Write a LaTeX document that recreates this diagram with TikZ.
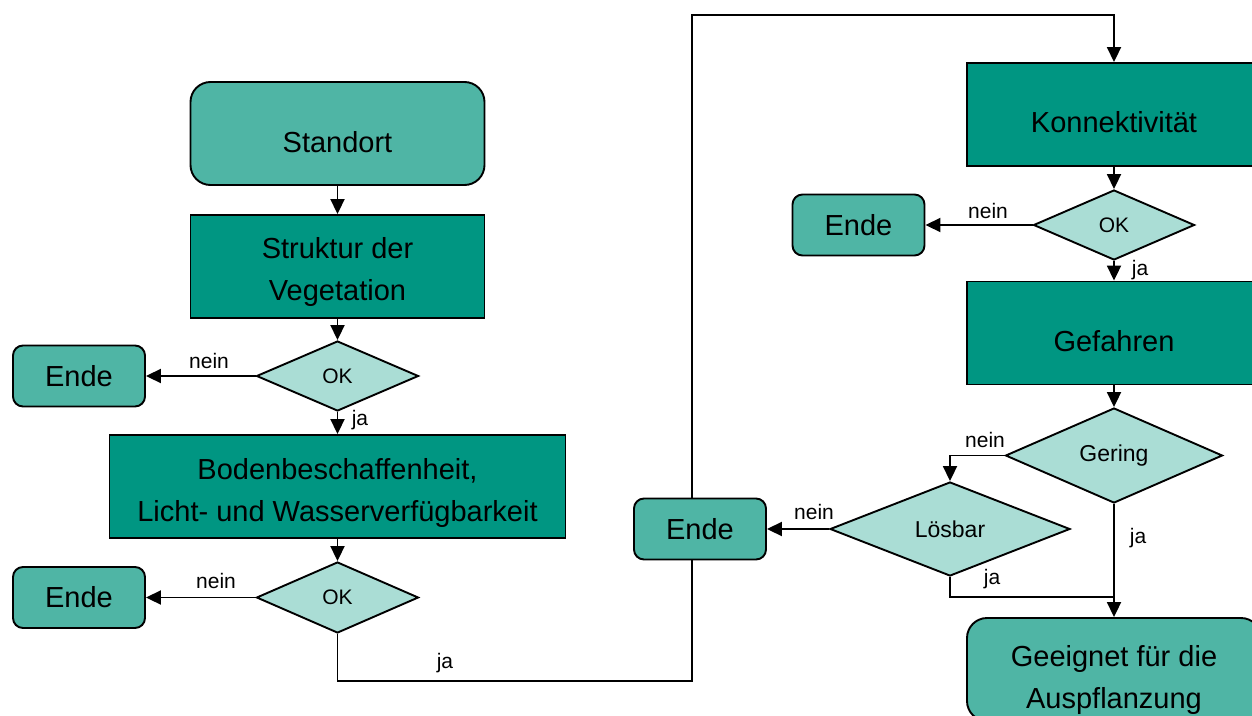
\documentclass[tikz,border=0pt]{standalone}
\usepackage{fontspec}
\setmainfont{Liberation Sans}
\usetikzlibrary{shapes.geometric,arrows.meta,backgrounds}
\definecolor{tealdark}{RGB}{0,150,130}
\definecolor{tealmid}{RGB}{79,181,165}
\definecolor{teallight}{RGB}{170,221,213}
\begin{document}
\begin{tikzpicture}[x=1pt,y=-1pt,
  big/.style={font=\fontsize{29}{42}\selectfont,align=center},
  darkbox/.style={draw=black,line width=1.9pt,fill=tealdark,minimum width=294pt,minimum height=103pt,inner sep=0pt},
  roundbox/.style={draw=black,line width=1.9pt,fill=tealmid,rounded corners=20pt,minimum width=294pt,minimum height=103pt,inner sep=0pt},
  endbox/.style={draw=black,line width=1.9pt,fill=tealmid,rounded corners=10pt,minimum width=132pt,minimum height=61pt,big,inner sep=0pt},
  dec/.style={diamond,draw=black,line width=1.9pt,fill=teallight,inner sep=0pt,font=\fontsize{21}{25}\selectfont},
  dec2/.style={dec,font=\fontsize{23}{27}\selectfont},
  lab/.style={font=\fontsize{21}{25}\selectfont,anchor=base,inner sep=0pt},
  conn/.style={line width=1.9pt,-{Triangle[length=15pt,width=14pt]}},
  plain/.style={line width=1.9pt},
]
\useasboundingbox (0,0) rectangle (1252,715);
\clip (0,0) rectangle (1252,715);

% left column
\node[roundbox] (std) at (337.5,133.5) {};
\node[big] (stdtxt) at ([yshift=-9pt]std.center) {Standort};
\node[darkbox] (str) at (337.5,266.5) {};
\node[big] (strtxt) at ([yshift=-5pt]str.center) {Struktur der\\Vegetation};
\node[dec,minimum width=162pt,minimum height=70pt] (ok1) at (337.5,376) {OK};
\node[endbox] (e1) at (79,376) {Ende};
\node[darkbox,minimum width=456pt] (bod) at (337.5,486.5) {};
\node[big] (bodtxt) at ([yshift=-6pt]bod.center) {Bodenbeschaffenheit,\\Licht- und Wasserverfügbarkeit};
\node[dec,minimum width=162pt,minimum height=71pt] (ok2) at (337.5,597.5) {OK};
\node[endbox] (e2) at (79,597.5) {Ende};

% right column
\node[darkbox] (konn) at (1114,114.5) {};
\node[big] (konntxt) at ([yshift=-7.5pt]konn.center) {Konnektivität};
\node[dec,minimum width=161pt,minimum height=70pt] (ok3) at (1114,225) {OK};
\node[endbox] (e4) at (858.5,225) {Ende};
\node[darkbox] (gef) at (1114,333) {};
\node[big] (geftxt) at ([yshift=-8pt]gef.center) {Gefahren};
\node[dec2,minimum width=217pt,minimum height=95pt] (ger) at (1114,455.5) {Gering};
\node[dec2,minimum width=240pt,minimum height=94pt] (loes) at (950,529) {Lösbar};
\node[endbox] (e3) at (700,529) {Ende};
\node[roundbox] (gee) at (1114,669.5) {};
\node[big] (geetxt) at ([yshift=-10pt]gee.center) {Geeignet für die\\Auspflanzung};

\coordinate (c1) at (692,681);
\coordinate (c2) at (692,15);
\coordinate (jn) at (1114,597);

\begin{pgfonlayer}{background}
\draw[conn] (std.south) -- (str.north);
\draw[conn] (str.south) -- (ok1.north);
\draw[conn] (ok1.west) -- (e1.east);
\draw[conn] (ok1.south) -- (bod.north);
\draw[conn] (bod.south) -- (ok2.north);
\draw[conn] (ok2.west) -- (e2.east);
\draw[conn] (ok2.south) |- (c1) -- (c2) -| (konn.north);
\draw[conn] (konn.south) -- (ok3.north);
\draw[conn] (ok3.west) -- (e4.east);
\draw[conn] (ok3.south) -- (gef.north);
\draw[conn] (gef.south) -- (ger.north);
\draw[conn] (ger.west) -| (loes.north);
\draw[conn] (loes.west) -- (e3.east);
\draw[plain] (loes.south) |- (jn);
\draw[conn] (ger.south) -- (gee.north);
\end{pgfonlayer}

% connector labels
\node[lab] (n1) at (209,368) {nein};
\node[lab] (j1) at (360,425) {ja};
\node[lab] (n2) at (216,588) {nein};
\node[lab] (j2) at (445,668) {ja};
\node[lab] (n3) at (988,218) {nein};
\node[lab] (j3) at (1140,275) {ja};
\node[lab] (n4) at (985,447) {nein};
\node[lab] (n5) at (814,519) {nein};
\node[lab] (j4) at (1138,543) {ja};
\node[lab] (j5) at (992,584) {ja};
\end{tikzpicture}
\end{document}
